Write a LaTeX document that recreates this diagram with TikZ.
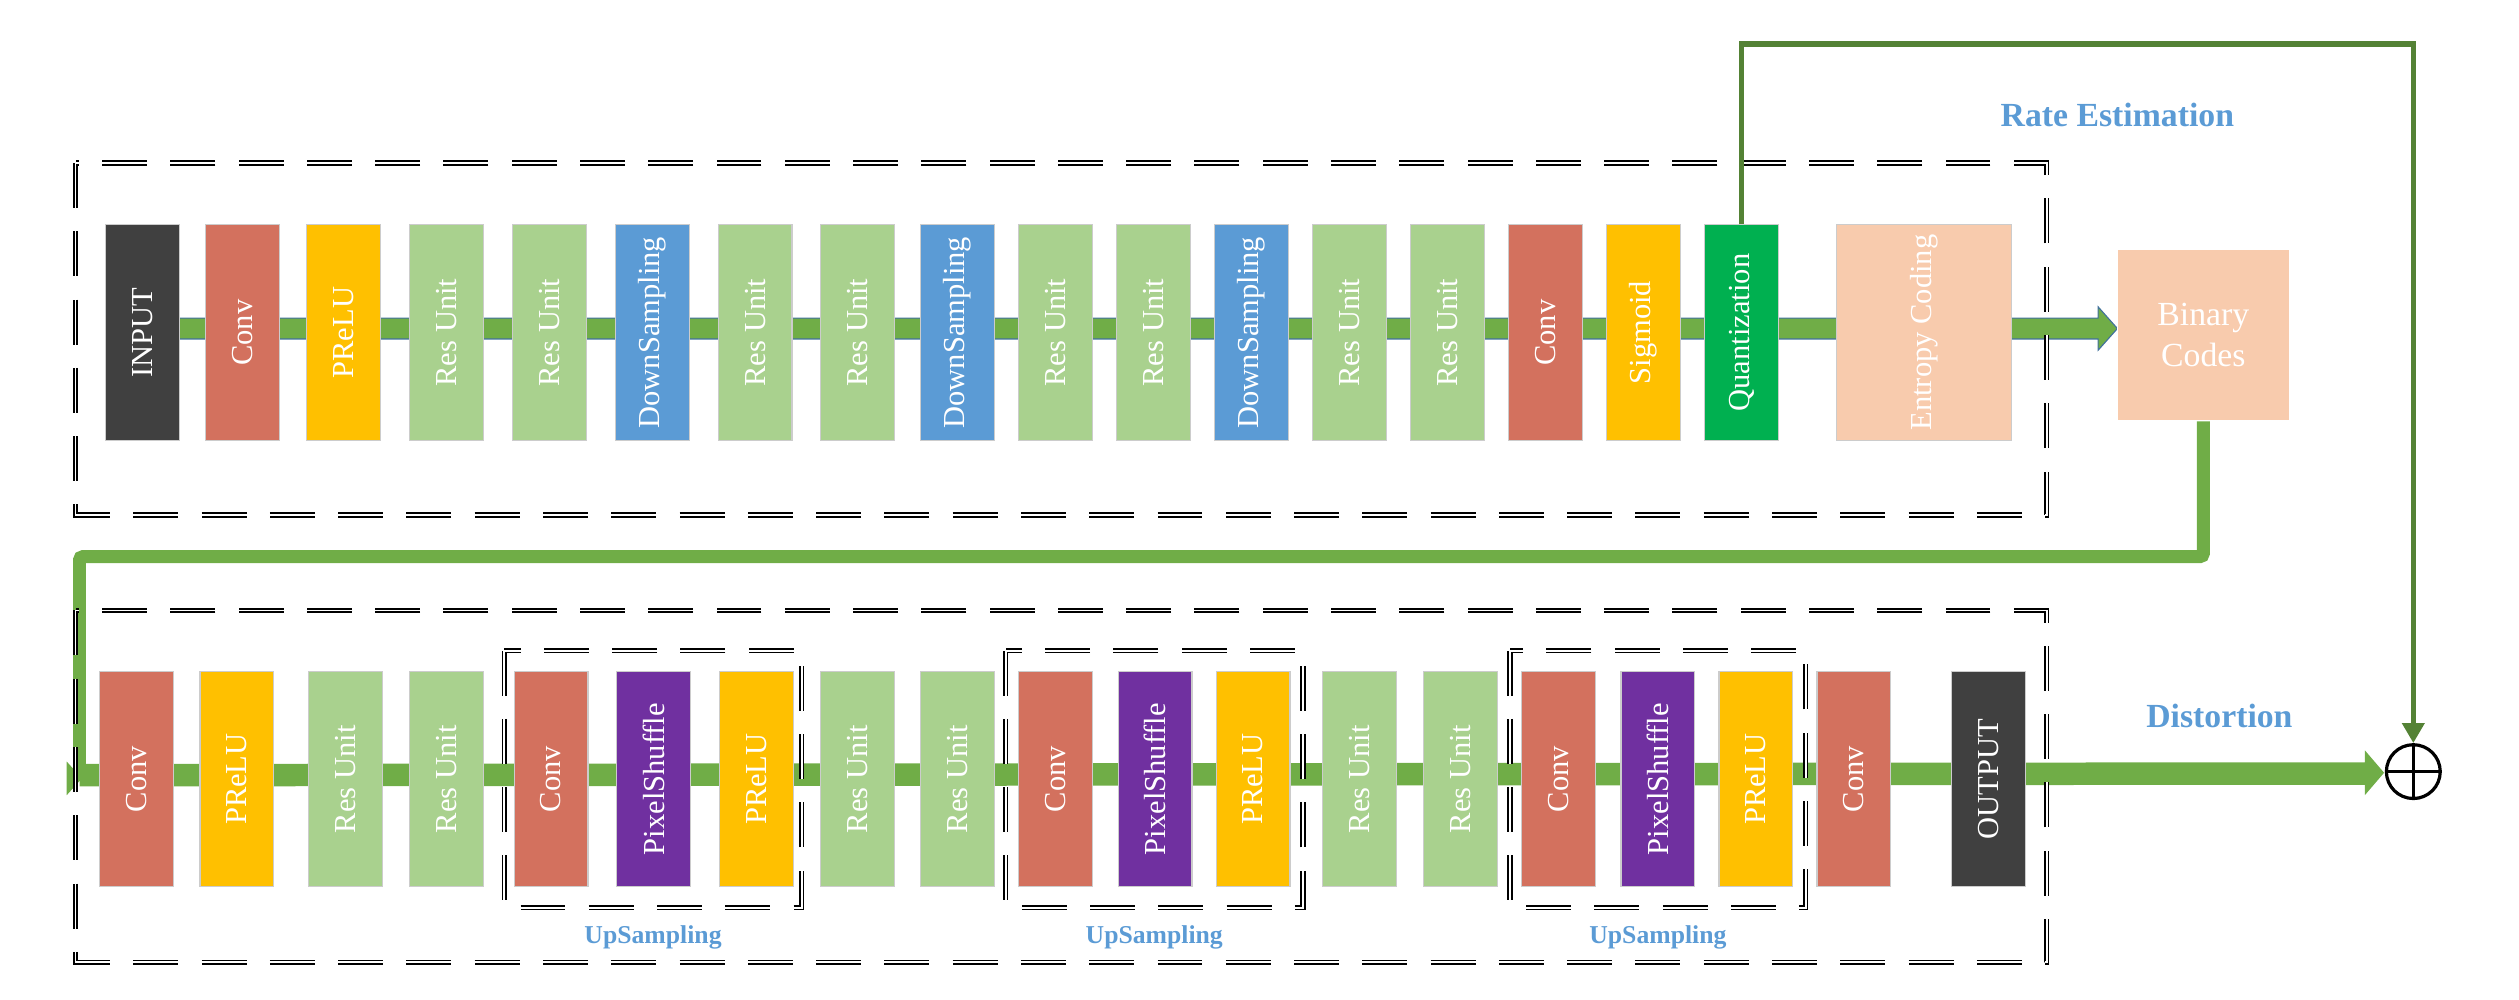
\documentclass[tikz,border=0pt]{standalone}
\usepackage{fontspec}
\setmainfont{Liberation Serif}
\usetikzlibrary{arrows.meta}
\definecolor{cdark}{HTML}{404040}
\definecolor{cconv}{RGB}{211,113,94}
\definecolor{cyel}{HTML}{FFC000}
\definecolor{cres}{HTML}{A9D18E}
\definecolor{cdown}{HTML}{5B9BD5}
\definecolor{cquant}{HTML}{00B050}
\definecolor{cpeach}{HTML}{F8CBAD}
\definecolor{cpurp}{HTML}{7030A0}
\definecolor{cgreen}{HTML}{70AD47}
\definecolor{cdgreen}{HTML}{548235}
\definecolor{coutl}{HTML}{41719C}
\definecolor{clbl}{HTML}{5B9BD5}
\begin{document}
\begin{tikzpicture}[x=1pt,y=-1pt,
  blk/.style={draw=black!20, line width=0.7pt, rotate=90, minimum width=134pt, minimum height=46pt, inner sep=0pt, text=white, font=\fontsize{19}{22}\selectfont},
  dbl/.style={draw=black, line width=1.1pt, double=white, double distance=1.2pt, dash pattern=on 28pt off 14.5pt},
  lbl/.style={text=clbl, font=\bfseries\fontsize{16}{18}\selectfont, anchor=base},
  biglbl/.style={text=clbl, font=\bfseries\fontsize{21}{24}\selectfont, anchor=base},
  conn/.style={draw=cgreen, line width=8pt, rounded corners=2pt},
  fb/.style={draw=cdgreen, line width=3.5pt, -{Triangle[width=13.5pt,length=12.5pt]}}]
\useasboundingbox (0,0) rectangle (1568,622);

% shafts
\fill[cgreen, draw=coutl, line width=0.7pt] (66,198) -- (1306,198) -- (1306,191) -- (1318,204.5) -- (1306,218) -- (1306,211) -- (66,211) -- cycle;
\fill[cgreen] (49.5,475.5) -- (1472,474.5) -- (1472,467) -- (1484,481) -- (1472,495) -- (1472,488.5) -- (49.5,489.5) -- cycle;

% top row
\node[blk, fill=cdark]  (t1)  at (88.5,207) {INPUT};
\node[blk, fill=cconv]  (t2)  at (151,207) {Conv};
\node[blk, fill=cyel]   (t3)  at (214,207) {PReLU};
\node[blk, fill=cres]   (t4)  at (278,207) {Res Unit};
\node[blk, fill=cres]   (t5)  at (342,207) {Res Unit};
\node[blk, fill=cdown]  (t6)  at (406,207) {DownSampling};
\node[blk, fill=cres]   (t7)  at (470,207) {Res Unit};
\node[blk, fill=cres]   (t8)  at (534,207) {Res Unit};
\node[blk, fill=cdown]  (t9)  at (596,207) {DownSampling};
\node[blk, fill=cres]   (t10) at (657,207) {Res Unit};
\node[blk, fill=cres]   (t11) at (718,207) {Res Unit};
\node[blk, fill=cdown]  (t12) at (779,207) {DownSampling};
\node[blk, fill=cres]   (t13) at (840,207) {Res Unit};
\node[blk, fill=cres]   (t14) at (901,207) {Res Unit};
\node[blk, fill=cconv]  (t15) at (962,207) {Conv};
\node[blk, fill=cyel]   (t16) at (1023,207) {Sigmoid};
\node[blk, fill=cquant] (t17) at (1084,207) {Quantization};
\node[blk, fill=cpeach, minimum height=109pt] (t18) at (1197.5,207) {Entropy Coding};
\node[fill=cpeach, draw=white, line width=0.7pt, minimum width=107pt, minimum height=107pt, inner sep=0pt, text=white, align=center, font=\fontsize{21}{25}\selectfont] (bc) at (1371.5,208.5) {Binary\\Codes};

% bottom row
\node[blk, fill=cconv]  (b1)  at (85,485) {Conv};
\node[blk, fill=cyel]   (b2)  at (147.5,485) {PReLU};
\node[blk, fill=cres]   (b3)  at (215,485) {Res Unit};
\node[blk, fill=cres]   (b4)  at (278,485) {Res Unit};
\node[blk, fill=cconv]  (b5)  at (343,485) {Conv};
\node[blk, fill=cpurp]  (b6)  at (407,485) {PixelShuffle};
\node[blk, fill=cyel]   (b7)  at (471,485) {PReLU};
\node[blk, fill=cres]   (b8)  at (534,485) {Res Unit};
\node[blk, fill=cres]   (b9)  at (596,485) {Res Unit};
\node[blk, fill=cconv]  (b10) at (657,485) {Conv};
\node[blk, fill=cpurp]  (b11) at (719,485) {PixelShuffle};
\node[blk, fill=cyel]   (b12) at (780,485) {PReLU};
\node[blk, fill=cres]   (b13) at (846,485) {Res Unit};
\node[blk, fill=cres]   (b14) at (909,485) {Res Unit};
\node[blk, fill=cconv]  (b15) at (970,485) {Conv};
\node[blk, fill=cpurp]  (b16) at (1032,485) {PixelShuffle};
\node[blk, fill=cyel]   (b17) at (1093,485) {PReLU};
\node[blk, fill=cconv]  (b18) at (1154,485) {Conv};
\node[blk, fill=cdark]  (b19) at (1238,485) {OUTPUT};

% sum node
\node[circle, draw, line width=2pt, minimum size=33.5pt, inner sep=0pt, fill=white] (plus) at (1502.2,480.3) {};
\draw[line width=1.7pt] (plus.north) -- (plus.south) (plus.west) -- (plus.east);

% connector from binary codes to decoder
\coordinate (c1) at (1371.5,346.5);
\coordinate (c2) at (49.5,346.5);
\coordinate (c3) at (49.5,484);
\draw[conn] (bc.south) -- (c1) -- (c2) -- (c3);
\fill[cgreen] (41.5,474) -- (51,484.5) -- (41.5,495) -- cycle;

% dashed group boxes
\draw[dbl] (47,101.5) rectangle (1274,320.5);
\draw[dbl] (47,380) rectangle (1274,599);
\draw[dbl] (314,405) rectangle (499,565);
\draw[dbl] (626,405) rectangle (811,565);
\draw[dbl] (940,405) rectangle (1124,565);

% feedback
\coordinate (f1) at (1084,27.5);
\coordinate (f2) at (1502.2,27.5);
\draw[fb] (t17.east) -- (f1) -- (f2) -- (plus.north);

% labels
\node[biglbl] (lrate) at (1318,79) {Rate Estimation};
\node[biglbl] (ldist) at (1381.5,453) {Distortion};
\node[lbl] (u1) at (406.5,587) {UpSampling};
\node[lbl] (u2) at (718.5,587) {UpSampling};
\node[lbl] (u3) at (1032,587) {UpSampling};
\end{tikzpicture}
\end{document}
